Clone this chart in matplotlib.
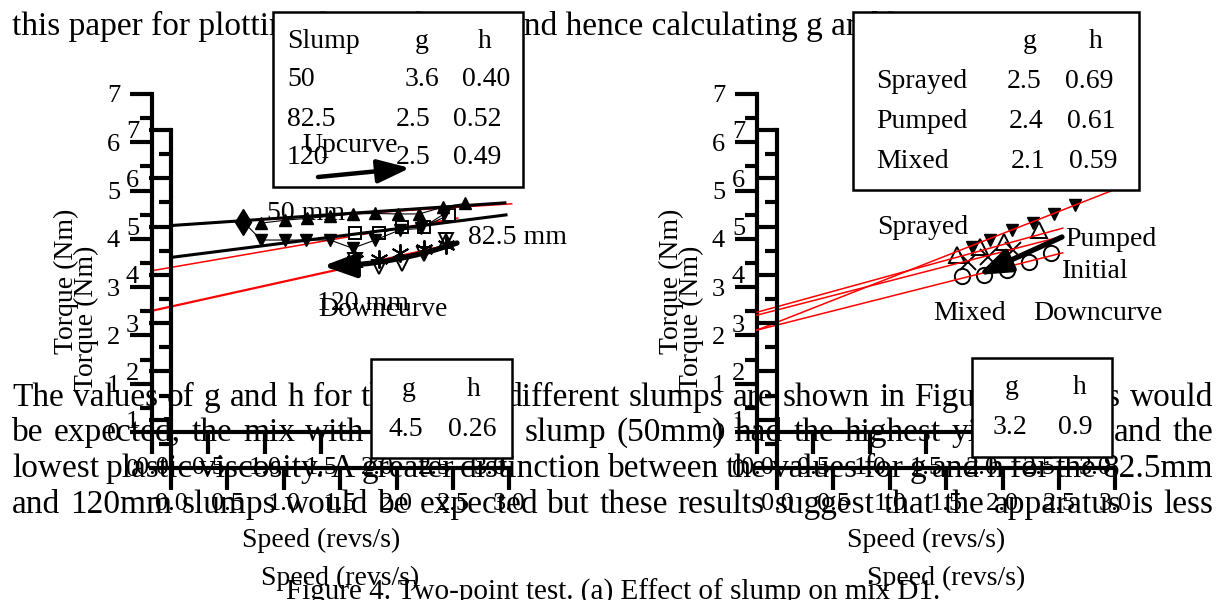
"""
Two-point test figure (slump / placement method) as it sits on the page,
with the overlapping duplicate axes and the body text around it.
"""
import matplotlib
matplotlib.use("Agg")
import matplotlib.pyplot as plt
from matplotlib.patches import Rectangle, FancyArrowPatch
from matplotlib.ticker import MultipleLocator, FormatStrFormatter

plt.rcParams["font.family"] = ["Liberation Serif", "DejaVu Serif"]

W, H = 1226, 600
XS, YS = 112.8, 48.3          # pixels per data unit
BODY_FS, CAP_FS, LABEL_FS, TICK_FS = 24, 21, 20, 19
RED, INK = "#ff0000", "#000000"

# ---- panel (a): effect of slump, upper (shifted) axes ----
UP50_X = [0.80, 1.01, 1.21, 1.41, 1.61, 1.81, 2.01, 2.20, 2.41, 2.61]
UP50_Y = [5.07, 5.13, 5.17, 5.21, 5.26, 5.27, 5.26, 5.26, 5.40, 5.48]
DIAMOND_X, DIAMOND_Y = [0.64], [5.10]
DOWN_X = [0.64, 0.80, 1.01, 1.20, 1.41, 1.61, 1.81, 2.03, 2.22, 2.42]
DOWN_Y = [5.10, 4.72, 4.72, 4.72, 4.72, 4.55, 4.72, 4.93, 4.96, 5.26]
FIT50_X, FIT50_Y = [0.0, 3.02], [5.02, 5.47]
BLACK_UP_X, BLACK_UP_Y = [0.0, 2.96], [5.02, 5.49]
BLACK_DOWN_X, BLACK_DOWN_Y = [0.0, 2.97], [4.36, 5.24]

# ---- panel (a): lower axes ----
SQ_X = [1.80, 2.01, 2.22, 2.41, 2.63]
SQ_Y = [4.11, 4.11, 4.25, 4.25, 4.49]
AST120_X = [1.80, 2.01, 2.20, 2.41, 2.61]
AST120_Y = [3.56, 3.59, 3.71, 3.78, 3.87]
V120_X = [1.80, 2.01, 2.22, 2.41, 2.61]
V120_Y = [3.56, 3.41, 3.48, 3.69, 3.97]
UP120_X, UP120_Y = [1.80, 2.61], [3.56, 3.95]
FIT825_X, FIT825_Y = [0.0, 2.71], [3.34, 4.43]
FIT120_X, FIT120_Y = [0.0, 2.71], [2.51, 3.91]

# ---- panel (b): placement method ----
SPRAY_X = [1.91, 2.07, 2.26, 2.45, 2.63, 2.82]
SPRAY_Y = [3.82, 3.98, 4.18, 4.32, 4.51, 4.70]
PUMP_X = [1.77, 1.98, 2.19, 2.50]
PUMP_Y = [3.66, 3.82, 3.94, 4.18]
INIT_X = [1.87, 2.05, 2.27]
INIT_Y = [3.53, 3.63, 3.77]
MIX_X = [1.82, 2.01, 2.22, 2.41, 2.61]
MIX_Y = [3.23, 3.25, 3.35, 3.53, 3.70]
FIT_SPRAY_X, FIT_SPRAY_Y = [0.0, 3.16], [2.11, 5.01]
FIT_PUMP_X, FIT_PUMP_Y = [0.0, 2.71], [2.48, 4.22]
FIT_INIT_X, FIT_INIT_Y = [0.0, 2.69], [2.42, 4.04]
FIT_MIX_X, FIT_MIX_Y = [0.0, 2.71], [2.11, 3.71]

# ---- tables ----
SLUMPS = ["50", "82.5", "120"]
SLUMP_G = ["3.6", "2.5", "2.5"]
SLUMP_H = ["0.40", "0.52", "0.49"]
METHODS = ["Sprayed", "Pumped", "Mixed"]
METHOD_G = ["2.5", "2.4", "2.1"]
METHOD_H = ["0.69", "0.61", "0.59"]
LOW_LEFT_GH = ["4.5", "0.26"]
LOW_RIGHT_GH = ["3.2", "0.9"]

BODY = [
    "The values of g and h for the mix at different slumps are shown in Figure 4(b). As would",
    "be expected, the mix with the lowest slump (50mm) had the highest yield stress and the",
    "lowest plastic viscosity. A greater distinction between the values for g and h for the 82.5mm",
    "and 120mm slumps would be expected but these results suggest that the apparatus is less",
]
BODY_Y = [398, 433, 469, 505]


def panel_axes(fig, x0, y0, xl, yl):
    """3 x 7 axes with data origin at pixel (x0, y0); labels centred at xl / yl."""
    ax = fig.add_axes([x0 / W, 1 - y0 / H, 3 * XS / W, 7 * YS / H], zorder=2)
    ax.set_xlim(0, 3)
    ax.set_ylim(0, 7)
    ax.patch.set_visible(False)
    for s in ("top", "right"):
        ax.spines[s].set_visible(False)
    for s in ("left", "bottom"):
        ax.spines[s].set_linewidth(3)
    ax.xaxis.set_major_locator(MultipleLocator(0.5))
    ax.xaxis.set_major_formatter(FormatStrFormatter("%.1f"))
    ax.yaxis.set_major_locator(MultipleLocator(1))
    ax.yaxis.set_minor_locator(MultipleLocator(0.5))
    ax.tick_params(which="major", length=16, width=3, labelsize=TICK_FS)
    ax.tick_params(axis="y", which="minor", length=9, width=3)
    ax.tick_params(axis="y", pad=7)
    ax.tick_params(axis="x", pad=2)
    ax.set_xlabel("Speed (revs/s)", fontsize=LABEL_FS)
    ax.set_ylabel("Torque (Nm)", fontsize=LABEL_FS)
    ax.xaxis.set_label_coords(0.5, -(xl - y0) / (7 * YS))
    ax.xaxis.label.set_va("center")
    ax.yaxis.set_label_coords(-(x0 - yl[0]) / (3 * XS), (y0 - yl[1]) / (7 * YS))
    ax.yaxis.label.set_va("center")
    return ax


def justified(ax, text, y, x0=12, x1=1213):
    r = ax.figure.canvas.get_renderer()
    arts = [ax.text(0, y, w, fontsize=BODY_FS, va="center") for w in text.split()]
    widths = [a.get_window_extent(r).width for a in arts]
    gap = (x1 - x0 - sum(widths)) / (len(arts) - 1)
    x = x0
    for a, w in zip(arts, widths):
        a.set_x(x)
        x += w + gap


def box(ax, x0, y0, x1, y1):
    ax.add_patch(Rectangle((x0, y0), x1 - x0, y1 - y0, fc="white", ec=INK,
                           lw=1.8, zorder=1))


def arrow(ax, p0, p1, lw=3.0, rad=0.0, hl=1.1, hw=0.4):
    ax.add_patch(FancyArrowPatch(
        p0, p1, arrowstyle=f"-|>,head_length={hl},head_width={hw}",
        mutation_scale=18, color=INK, lw=lw, shrinkA=0, shrinkB=0,
        connectionstyle=f"arc3,rad={rad}", zorder=4))


def main():
    fig = plt.figure(figsize=(W / 100, H / 100), dpi=100)

    # page text underneath everything
    bg = fig.add_axes([0, 0, 1, 1], zorder=0)
    bg.set_xlim(0, W)
    bg.set_ylim(H, 0)
    bg.axis("off")
    bg.text(12, 26, "this paper for plotting the results", fontsize=BODY_FS, va="center")
    bg.text(509, 26, "and hence calculating g and h", fontsize=BODY_FS, va="center")
    for line, y in zip(BODY, BODY_Y):
        justified(bg, line, y)
    bg.text(613, 592, "Figure 4. Two-point test. (a) Effect of slump on mix D1.",
            fontsize=CAP_FS, ha="center", va="center")

    # ---- panel (a) ----
    a1 = panel_axes(fig, 152, 432, 540, (66, 281))
    a2 = panel_axes(fig, 171, 468, 578, (86, 318))
    a2.plot(FIT50_X, FIT50_Y, color=RED, lw=1.1, clip_on=False)
    a2.plot(BLACK_UP_X, BLACK_UP_Y, color=INK, lw=2.2, clip_on=False)
    a2.plot(BLACK_DOWN_X, BLACK_DOWN_Y, color=INK, lw=2.2, clip_on=False)
    a2.plot(UP50_X, UP50_Y, color=INK, lw=0.8, marker="^", ms=8)
    a2.plot(DOWN_X, DOWN_Y, color=INK, lw=0.8, marker="v", ms=8,
            markevery=list(range(1, len(DOWN_X))))
    a2.plot(DIAMOND_X, DIAMOND_Y, ls="none", color=INK, marker="d", ms=13)
    a1.plot(FIT825_X, FIT825_Y, color=RED, lw=1.1)
    a1.plot(FIT120_X, FIT120_Y, color=RED, lw=1.6)
    a1.plot(SQ_X, SQ_Y, color=INK, lw=0.8, marker="s", ms=9, mfc="white", mew=1.4)
    a1.plot(AST120_X, AST120_Y, ls="none", color=INK, marker=(6, 2, 0), ms=13, mew=1.4)
    a1.plot(V120_X, V120_Y, ls="none", color=INK, marker="v", ms=10, mfc="none", mew=1.4)
    a1.plot(UP120_X, UP120_Y, ls="none", color=INK, marker="^", ms=10, mfc="none", mew=1.4)

    # ---- panel (b) ----
    b1 = panel_axes(fig, 757, 432, 540, (671, 281))
    b2 = panel_axes(fig, 777, 468, 578, (691, 318))
    for fx, fy in [(FIT_SPRAY_X, FIT_SPRAY_Y), (FIT_PUMP_X, FIT_PUMP_Y),
                   (FIT_INIT_X, FIT_INIT_Y), (FIT_MIX_X, FIT_MIX_Y)]:
        b1.plot(fx, fy, color=RED, lw=1.1, clip_on=False, zorder=3)
    b1.plot(SPRAY_X, SPRAY_Y, ls="none", color=INK, marker="v", ms=9)
    b1.plot(PUMP_X, PUMP_Y, ls="none", color=INK, marker="^", ms=11, mfc="none", mew=1.4)
    b1.plot(INIT_X, INIT_Y, ls="none", color=INK, marker="x", ms=11, mew=1.4)
    b1.plot(MIX_X, MIX_Y, ls="none", color=INK, marker="o", ms=11, mfc="none", mew=1.4)

    # ---- boxes, tables and annotations on top ----
    ov = fig.add_axes([0, 0, 1, 1], zorder=10)
    ov.set_xlim(0, W)
    ov.set_ylim(H, 0)
    ov.axis("off")

    box(ov, 273, 12, 523, 187)
    ov.text(287, 42, "Slump", fontsize=LABEL_FS, va="center")
    ov.text(422, 42, "g", fontsize=LABEL_FS, ha="center", va="center")
    ov.text(485, 42, "h", fontsize=LABEL_FS, ha="center", va="center")
    for i, (s, g, h) in enumerate(zip(SLUMPS, SLUMP_G, SLUMP_H)):
        y = 80 + 39 * i
        ov.text(287, y, s, fontsize=LABEL_FS, va="center")
        ov.text(422 if i == 0 else 413, y, g, fontsize=LABEL_FS, ha="center", va="center")
        ov.text(486 if i == 0 else 477, y, h, fontsize=LABEL_FS, ha="center", va="center")
    ov.text(350, 145, "Upcurve", fontsize=LABEL_FS, ha="center", va="center")
    arrow(ov, (318, 177), (410, 168), lw=3.2)

    box(ov, 853, 12, 1139, 190)
    ov.text(1030, 42, "g", fontsize=LABEL_FS, ha="center", va="center")
    ov.text(1096, 42, "h", fontsize=LABEL_FS, ha="center", va="center")
    for i, (m, g, h) in enumerate(zip(METHODS, METHOD_G, METHOD_H)):
        y = 82 + 40 * i
        ov.text(876, y, m, fontsize=LABEL_FS, va="center")
        ov.text(1024 + 2 * i, y, g, fontsize=LABEL_FS, ha="center", va="center")
        ov.text(1089 + 2 * i, y, h, fontsize=LABEL_FS, ha="center", va="center")

    box(ov, 371, 359, 512, 458)
    ov.text(409, 390, "g", fontsize=LABEL_FS, ha="center", va="center")
    ov.text(474, 390, "h", fontsize=LABEL_FS, ha="center", va="center")
    ov.text(406, 430, LOW_LEFT_GH[0], fontsize=LABEL_FS, ha="center", va="center")
    ov.text(472, 430, LOW_LEFT_GH[1], fontsize=LABEL_FS, ha="center", va="center")

    box(ov, 972, 358, 1112, 457)
    ov.text(1012, 388, "g", fontsize=LABEL_FS, ha="center", va="center")
    ov.text(1080, 388, "h", fontsize=LABEL_FS, ha="center", va="center")
    ov.text(1010, 428, LOW_RIGHT_GH[0], fontsize=LABEL_FS, ha="center", va="center")
    ov.text(1075, 428, LOW_RIGHT_GH[1], fontsize=LABEL_FS, ha="center", va="center")

    # curve labels, panel (a)
    ov.text(267, 214, "50 mm", fontsize=LABEL_FS, va="center")
    ov.text(468, 238, "82.5 mm", fontsize=LABEL_FS, va="center")
    ov.text(317, 304, "120 mm", fontsize=LABEL_FS, va="center")
    ov.text(318, 309, "Downcurve", fontsize=LABEL_FS, va="center")
    arrow(ov, (457, 243), (323, 266), lw=3.8, rad=-0.08)

    # curve labels, panel (b)
    ov.text(877, 227, "Sprayed", fontsize=LABEL_FS, va="center")
    ov.text(1065, 240, "Pumped", fontsize=LABEL_FS, va="center")
    ov.text(1062, 271, "Initial", fontsize=LABEL_FS, va="center")
    ov.text(933, 313, "Mixed", fontsize=LABEL_FS, va="center")
    ov.text(1033, 313, "Downcurve", fontsize=LABEL_FS, va="center")
    arrow(ov, (1062, 237), (978, 275), lw=3.8)

    fig.savefig("out.png", dpi=100, facecolor="white")


if __name__ == "__main__":
    main()
